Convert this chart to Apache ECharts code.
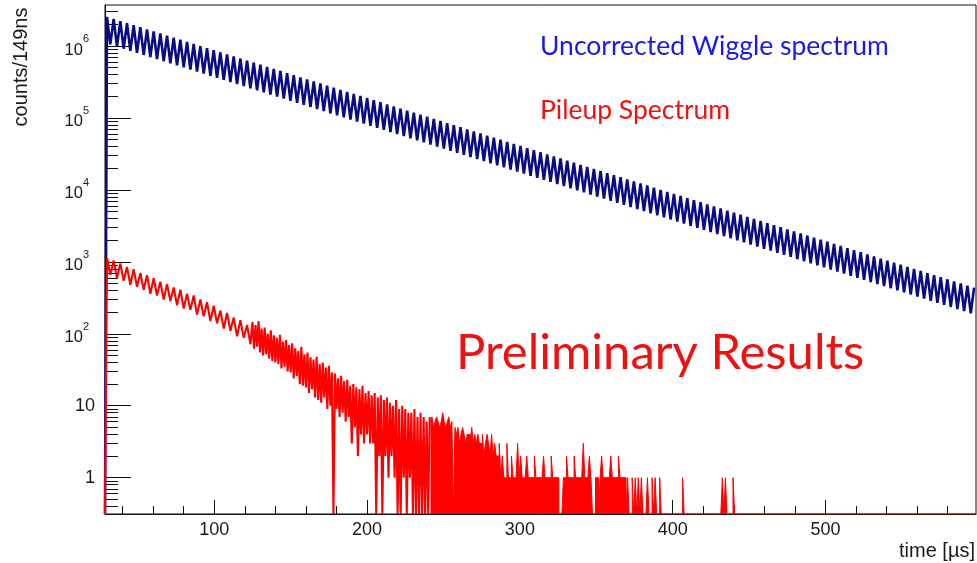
<!DOCTYPE html>
<html><head><meta charset="utf-8">
<script src="https://cdn.jsdelivr.net/npm/echarts@6/dist/echarts.min.js"></script>
<style>html,body{margin:0;padding:0;background:#fff}#c{width:977px;height:563px}</style>
</head><body><div id="c"></div>
<script>
// ---------- axes ----------
const X_MIN = 28.5, X_MAX = 598.5;
const Y_MIN = 0.313, Y_MAX = 3.71e6;
const xMajorTicks = [100, 200, 300, 400, 500];
const xMinorTicks = [40, 60, 80, 120, 140, 160, 180, 220, 240, 260, 280, 320, 340, 360, 380, 420, 440, 460, 480, 520, 540, 560, 580];
const yMajorTicks = [1, 10, 100, 1e3, 1e4, 1e5, 1e6];
const yMinorTicks = [0.4, 0.5, 0.6, 0.7, 0.8, 0.9,
  2, 3, 4, 5, 6, 7, 8, 9,
  20, 30, 40, 50, 60, 70, 80, 90,
  200, 300, 400, 500, 600, 700, 800, 900,
  2000, 3000, 4000, 5000, 6000, 7000, 8000, 9000,
  2e4, 3e4, 4e4, 5e4, 6e4, 7e4, 8e4, 9e4,
  2e5, 3e5, 4e5, 5e5, 6e5, 7e5, 8e5, 9e5,
  2e6, 3e6];

// ---------- uncorrected wiggle spectrum (one max / one min per g-2 period) ----------
const wiggleT0 = 29.8, wigglePeriod = 4.365;
const wigglePeaks = [
  2.54e6, 2.37e6, 2.22e6, 2.08e6, 1.94e6, 1.82e6, 1.70e6, 1.59e6, 1.49e6, 1.39e6,
  1.30e6, 1.22e6, 1.14e6, 1.07e6, 9.98e5, 9.34e5, 8.74e5, 8.17e5, 7.65e5, 7.15e5,
  6.69e5, 6.26e5, 5.86e5, 5.48e5, 5.13e5, 4.80e5, 4.49e5, 4.20e5, 3.93e5, 3.67e5,
  3.44e5, 3.21e5, 3.01e5, 2.81e5, 2.63e5, 2.46e5, 2.30e5, 2.15e5, 2.02e5, 1.89e5,
  1.76e5, 1.65e5, 1.54e5, 1.45e5, 1.35e5, 1.26e5, 1.18e5, 1.11e5, 1.04e5, 9.69e4,
  9.06e4, 8.47e4, 7.93e4, 7.42e4, 6.94e4, 6.49e4, 6.07e4, 5.68e4, 5.32e4, 4.97e4,
  4.65e4, 4.35e4, 4.07e4, 3.81e4, 3.56e4, 3.33e4, 3.12e4, 2.92e4, 2.73e4, 2.55e4,
  2.39e4, 2.23e4, 2.09e4, 1.96e4, 1.83e4, 1.71e4, 1.60e4, 1.50e4, 1.40e4, 1.31e4,
  1.23e4, 1.15e4, 1.07e4, 1.00e4, 9390, 8790, 8220, 7690, 7200, 6730,
  6300, 5890, 5510, 5160, 4820, 4510, 4220, 3950, 3700, 3460,
  3230, 3030, 2830, 2650, 2480, 2320, 2170, 2030, 1900, 1780,
  1660, 1550, 1450, 1360, 1270, 1190, 1110, 1040, 974, 911,
  853, 798, 746, 698, 653, 611, 572, 535, 500, 468, 438];
const wiggleTroughs = [
  1.05e6, 9.80e5, 9.16e5, 8.57e5, 8.02e5, 7.50e5, 7.02e5, 6.57e5, 6.14e5, 5.75e5,
  5.38e5, 5.03e5, 4.71e5, 4.40e5, 4.12e5, 3.85e5, 3.60e5, 3.37e5, 3.15e5, 2.95e5,
  2.76e5, 2.58e5, 2.42e5, 2.26e5, 2.11e5, 1.98e5, 1.85e5, 1.73e5, 1.62e5, 1.52e5,
  1.42e5, 1.33e5, 1.24e5, 1.16e5, 1.09e5, 1.02e5, 9.50e4, 8.89e4, 8.32e4, 7.78e4,
  7.28e4, 6.81e4, 6.37e4, 5.96e4, 5.58e4, 5.22e4, 4.88e4, 4.57e4, 4.27e4, 4.00e4,
  3.74e4, 3.50e4, 3.27e4, 3.06e4, 2.86e4, 2.68e4, 2.51e4, 2.34e4, 2.19e4, 2.05e4,
  1.92e4, 1.80e4, 1.68e4, 1.57e4, 1.47e4, 1.38e4, 1.29e4, 1.20e4, 1.13e4, 1.05e4,
  9860, 9220, 8620, 8070, 7550, 7060, 6610, 6180, 5780, 5410,
  5060, 4730, 4430, 4140, 3880, 3630, 3390, 3170, 2970, 2780,
  2600, 2430, 2270, 2130, 1990, 1860, 1740, 1630, 1520, 1430,
  1330, 1250, 1170, 1090, 1020, 956, 894, 837, 783, 732,
  685, 641, 600, 561, 525, 491, 459, 430, 402, 376,
  352, 329, 308, 288, 269, 252, 236, 221, 206, 193];

// ---------- pileup spectrum ----------
// early part: alternating max/min each half g-2 period
const pileupEarlyT0 = 29.8, pileupEarlyStep = 2.1825;
const pileupEarly = [1130, 660, 1040, 590, 950, 545, 850, 480, 790, 450,
  700, 410, 650, 360, 590, 340, 530, 300, 490, 285,
  440, 250, 410, 225, 360, 215, 340, 185, 300, 175,
  275, 150, 245, 140, 210, 118, 195, 110, 168, 92,
  155, 88, 132, 72];
// middle part: 1 us sampling, upper/lower noise edges
const pileupMidT0 = 125, pileupMidStep = 1;
const pileupMid = [145, 62, 132, 66, 150, 55, 118, 50, 122, 52,
  100, 45, 112, 42, 95, 40, 88, 38, 97, 33,
  78, 35, 82, 30, 70, 29, 74, 24, 63, 26,
  58, 20, 66, 19, 52, 18, 55, 15, 47, 17,
  44, 13, 48, 12, 38, 11, 40, 13, 34, 9,
  36, 10, 29, 0, 28, 9, 24, 7, 26, 8,
  22, 6, 23, 7, 19, 3, 20, 5, 18, 2,
  17, 4, 19, 3, 15, 4, 16, 3, 14, 3,
  15, 0, 13, 2, 14, 0, 12, 2, 13, 1,
  11, 2, 10, 1, 12, 0, 9, 0, 10, 1,
  9, 0, 8, 1, 8, 0, 9, 0, 7, 0,
  8, 0, 7, 0, 6, 0, 7];
// tail: max count in each 1 us slice (slices mix 0-count bins, so they fill down to the floor)
const pileupTailT0 = 241.5, pileupTailStep = 1;
const pileupTail = [6, 7, 5, 6, 7, 6, 5, 6, 8, 6, 5, 6, 7, 5, 6,
  0,
  5, 4, 5, 3, 4, 5, 4, 3, 4, 4, 3, 5, 3, 4, 3, 4, 3, 3, 4, 2, 3, 4,
  3, 2, 4, 2, 3, 2, 2, 3,
  1, 2, 1, 1, 3, 1, 1, 2, 1, 1, 1, 3, 1, 2, 1, 1, 1, 2, 1, 1, 1, 1, 2, 1, 1, 1, 1, 1, 2, 1, 1, 1, 1, 2, 1, 1, 1, 1,
  0, 0, 0,
  1, 1, 2, 1, 1, 1, 1, 2, 1, 1, 1, 1, 1, 3, 1, 1, 1, 2, 1,
  0, 0,
  1, 1,
  0,
  1, 2, 1, 1, 1, 1, 1, 2, 1, 1, 1, 1, 2, 1, 1, 1,
  1, 0, 1, 0, 0, 1, 0, 1, 0, 1, 0, 1, 0, 0, 0, 1, 0, 0, 1, 0, 1, 0, 0, 1,
  0, 0, 0, 0, 0, 0, 0, 0, 0, 0, 0, 0, 0, 0,
  1,
  0, 0, 0, 0, 0, 0, 0, 0, 0, 0, 0, 0, 0, 0, 0, 0, 0, 0, 0, 0, 0, 0, 0, 0, 0,
  1, 0, 1, 0, 0, 0, 0, 1, 0];

// ---------- build series data ----------
const floor = v => (v > 0 ? v : Y_MIN);   // empty bins sit on the frame bottom (log axis)
const blueData = [[X_MIN, Y_MIN]];
wigglePeaks.forEach((p, k) => {
  blueData.push([wiggleT0 + k * wigglePeriod, p]);
  if (k < wiggleTroughs.length) blueData.push([wiggleT0 + (k + 0.5) * wigglePeriod, wiggleTroughs[k]]);
});
const redData = [[X_MIN, Y_MIN]];
pileupEarly.forEach((v, i) => redData.push([pileupEarlyT0 + i * pileupEarlyStep, floor(v)]));
pileupMid.forEach((v, i) => redData.push([pileupMidT0 + i * pileupMidStep, floor(v)]));
const tailData = pileupTail.map((v, i) => [pileupTailT0 + i * pileupTailStep, floor(v)]);
tailData.push([pileupTailT0 + pileupTail.length * pileupTailStep, Y_MIN]);
tailData.push([X_MAX, Y_MIN]);

const AX = '"Liberation Sans", Arial, Helvetica, sans-serif';
const chart = echarts.init(document.getElementById('c'), null, {renderer: 'canvas'});
chart.setOption({
  animation: false,
  backgroundColor: '#ffffff',
  grid: {left: 105, right: 1, top: 5, bottom: 49, show: true, borderColor: '#111', borderWidth: 1, backgroundColor: 'transparent'},
  xAxis: [
    {type: 'value', min: X_MIN, max: X_MAX, position: 'bottom',
      axisLine: {show: true, lineStyle: {color: '#111', width: 1}},
      splitLine: {show: false},
      axisTick: {show: true, inside: true, length: 14, customValues: xMajorTicks, lineStyle: {color: '#111', width: 1}},
      axisLabel: {show: true, customValues: xMajorTicks, margin: 7, fontSize: 18, fontFamily: AX, color: '#1a1a1a'}},
    {type: 'value', min: X_MIN, max: X_MAX, position: 'bottom',
      axisLine: {show: false}, splitLine: {show: false},
      axisTick: {show: true, inside: true, length: 8, customValues: xMinorTicks, lineStyle: {color: '#111', width: 1}},
      axisLabel: {show: false}}
  ],
  yAxis: [
    {type: 'log', logBase: 10, min: Y_MIN, max: Y_MAX, position: 'left',
      axisLine: {show: true, lineStyle: {color: '#111', width: 1}},
      splitLine: {show: false},
      axisTick: {show: true, inside: true, length: 26, customValues: yMajorTicks, lineStyle: {color: '#111', width: 1}},
      axisLabel: {show: true, customValues: yMajorTicks, margin: 10, fontFamily: AX, color: '#1a1a1a', fontSize: 18,
        formatter: function (v) {
          if (v < 5) return '1';
          if (v < 50) return '10';
          return '{b|10}{s|' + Math.round(Math.log10(v)) + '}';
        },
        rich: {
          b: {fontSize: 16.5, fontFamily: AX, color: '#1a1a1a', lineHeight: 25, verticalAlign: 'bottom'},
          s: {fontSize: 11, fontFamily: AX, color: '#1a1a1a', lineHeight: 12, verticalAlign: 'top', padding: [0, 6, 0, 0]}
        }}},
    {type: 'log', logBase: 10, min: Y_MIN, max: Y_MAX, position: 'left',
      axisLine: {show: false}, splitLine: {show: false},
      axisTick: {show: true, inside: true, length: 13, customValues: yMinorTicks, lineStyle: {color: '#111', width: 1}},
      axisLabel: {show: false}}
  ],
  series: [
    {name: 'Uncorrected Wiggle spectrum', type: 'line', data: blueData, showSymbol: false, symbol: 'none',
      lineStyle: {color: '#0b0b84', width: 2.6}, clip: true, z: 2},
    {name: 'Pileup Spectrum', type: 'line', data: redData, showSymbol: false, symbol: 'none',
      lineStyle: {color: '#ff0000', width: 2.1}, clip: true, z: 3},
    {name: 'Pileup Spectrum tail', type: 'line', step: 'end', data: tailData, showSymbol: false, symbol: 'none',
      lineStyle: {color: '#ff0000', width: 1}, areaStyle: {color: '#ff0000', opacity: 1, origin: 'start'}, clip: true, z: 3}
  ],
  graphic: [
    {type: 'text', x: 540, y: 46, style: {text: 'Uncorrected Wiggle spectrum', font: '26.5px Lato', fill: '#1a1ae6', align: 'left', verticalAlign: 'middle', textAlign: 'left', textVerticalAlign: 'middle'}},
    {type: 'text', x: 540, y: 110, style: {text: 'Pileup Spectrum', font: '26.5px Lato', fill: '#ee1111', align: 'left', verticalAlign: 'middle', textAlign: 'left', textVerticalAlign: 'middle'}},
    {type: 'text', x: 456, y: 353, style: {text: 'Preliminary Results', font: '49px Lato', fill: '#ee1111', align: 'left', verticalAlign: 'middle', textAlign: 'left', textVerticalAlign: 'middle'}},
    {type: 'text', x: 21, y: 67, rotation: Math.PI / 2, style: {text: 'counts/149ns', font: '20px "Liberation Sans", Arial', fill: '#1a1a1a', align: 'center', verticalAlign: 'middle', textAlign: 'center', textVerticalAlign: 'middle'}},
    {type: 'text', x: 975, y: 551, style: {text: 'time [\u00b5s]', font: '20px "Liberation Sans", Arial', fill: '#1a1a1a', align: 'right', verticalAlign: 'middle', textAlign: 'right', textVerticalAlign: 'middle'}}
  ]
});
</script>
</body></html>
